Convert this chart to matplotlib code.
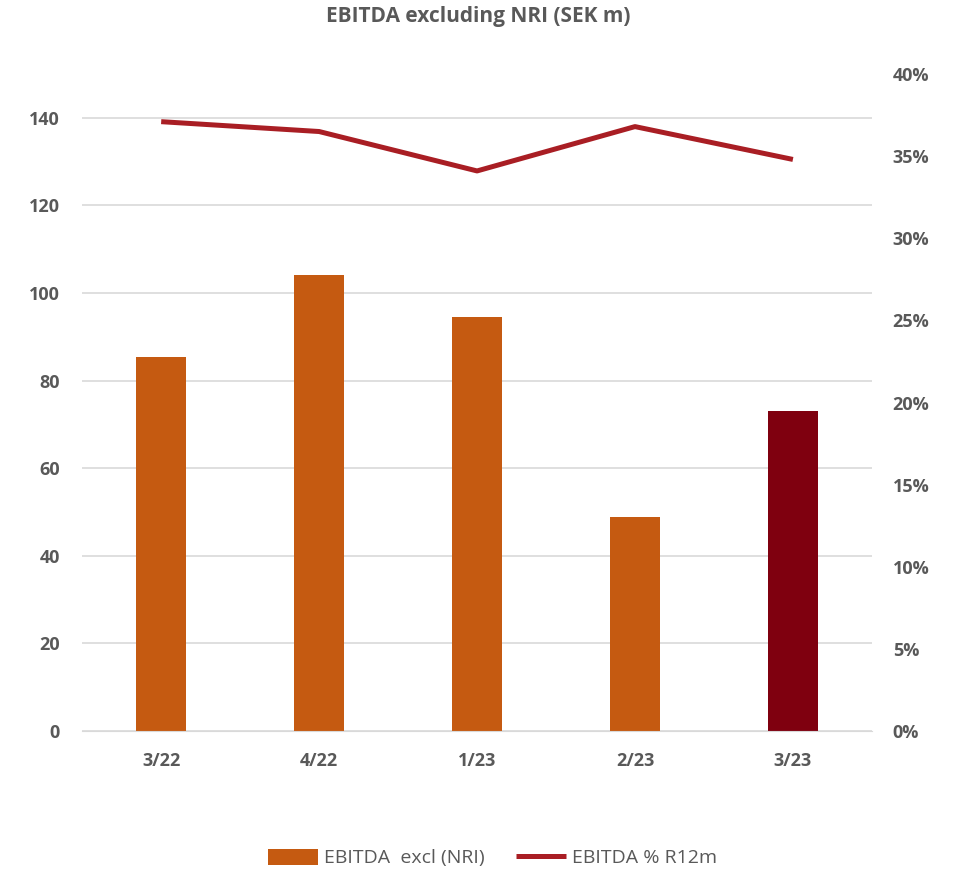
import matplotlib.pyplot as plt
from matplotlib.ticker import PercentFormatter

plt.rcParams['font.family'] = ['Open Sans', 'DejaVu Sans']

quarters = ['3/22', '4/22', '1/23', '2/23', '3/23']
ebitda = [85.5, 104.1, 94.6, 48.8, 73.1]
margin = [0.371, 0.365, 0.341, 0.368, 0.348]
bar_colors = ['#C55A11', '#C55A11', '#C55A11', '#C55A11', '#7F000F']

grey = '#595959'

fig = plt.figure(figsize=(9.56, 8.71), dpi=100)
ax = fig.add_axes([0.086, 0.1607, 0.826, 0.7543])
ax2 = ax.twinx()

x = range(len(quarters))
bars = ax.bar(x, ebitda, width=0.32, color=bar_colors, zorder=2, label='EBITDA  excl (NRI)')
ax2.plot(x, margin, color='#A91E24', lw=3.6, solid_capstyle='butt', label='EBITDA % R12m')

ax.set_xlim(-0.5, 4.5)
ax.set_ylim(0, 150)
ax.set_yticks(range(0, 141, 20))
ax2.set_ylim(0, 0.40)
ax2.set_yticks([i * 0.05 for i in range(9)])
ax2.yaxis.set_major_formatter(PercentFormatter(1.0, decimals=0))

ax.set_xticks(list(x))
ax.set_xticklabels(quarters)
ax.grid(axis='y', color='#D9D9D9', lw=1.2, zorder=0)
ax.set_axisbelow(True)

for a in (ax, ax2):
    for s in a.spines.values():
        s.set_visible(False)
    a.tick_params(length=0, labelsize=13, labelcolor=grey)
    for lbl in a.get_xticklabels() + a.get_yticklabels():
        lbl.set_fontweight('bold')
ax.tick_params(axis='x', pad=15)
ax.tick_params(axis='y', pad=16)
ax2.tick_params(axis='y', pad=15)
ax.spines['bottom'].set_visible(True)
ax.spines['bottom'].set_color('#D9D9D9')

fig.suptitle('EBITDA excluding NRI (SEK m)', y=0.993, fontsize=15, fontweight='bold', color=grey)

h1, l1 = ax.get_legend_handles_labels()
h2, l2 = ax2.get_legend_handles_labels()
fig.legend(h1 + h2, l1 + l2, loc='center', bbox_to_anchor=(0.515, 0.015), ncol=2,
           frameon=False, fontsize=14, labelcolor=grey, handlelength=2.6,
           handleheight=0.9, columnspacing=1.6, handletextpad=0.3)

fig.savefig('out.png', dpi=100)
